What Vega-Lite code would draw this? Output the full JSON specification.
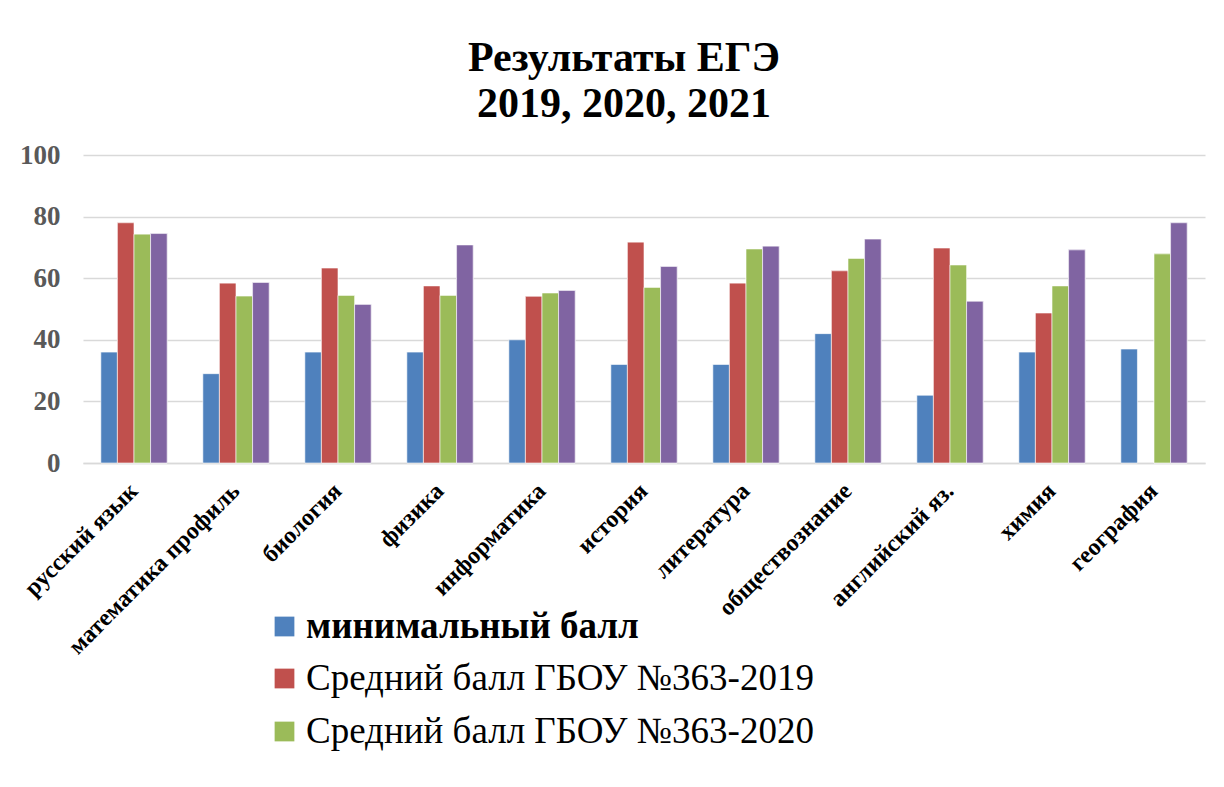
{
  "$schema": "https://vega.github.io/schema/vega-lite/v6.json",
  "width": 1122,
  "height": 308,
  "autosize": {"type": "none"},
  "padding": {"left": 83, "top": 155, "right": 19, "bottom": 324},
  "background": "white",
  "title": {
    "text": ["Результаты ЕГЭ", "2019, 2020, 2021"],
    "font": "Liberation Serif",
    "fontSize": 42,
    "fontWeight": "bold",
    "color": "black",
    "anchor": "middle",
    "dx": -20,
    "lineHeight": 46,
    "offset": 15
  },
  "data": {
    "values": [
      {"subject": "русский язык", "series": "минимальный балл", "value": 36},
      {"subject": "русский язык", "series": "Средний балл ГБОУ №363-2019", "value": 78},
      {"subject": "русский язык", "series": "Средний балл ГБОУ №363-2020", "value": 74.3},
      {"subject": "русский язык", "series": "Средний балл ГБОУ №363-2021", "value": 74.5},
      {"subject": "математика профиль", "series": "минимальный балл", "value": 29},
      {"subject": "математика профиль", "series": "Средний балл ГБОУ №363-2019", "value": 58.4},
      {"subject": "математика профиль", "series": "Средний балл ГБОУ №363-2020", "value": 54.2},
      {"subject": "математика профиль", "series": "Средний балл ГБОУ №363-2021", "value": 58.6},
      {"subject": "биология", "series": "минимальный балл", "value": 36},
      {"subject": "биология", "series": "Средний балл ГБОУ №363-2019", "value": 63.3},
      {"subject": "биология", "series": "Средний балл ГБОУ №363-2020", "value": 54.4},
      {"subject": "биология", "series": "Средний балл ГБОУ №363-2021", "value": 51.5},
      {"subject": "физика", "series": "минимальный балл", "value": 36},
      {"subject": "физика", "series": "Средний балл ГБОУ №363-2019", "value": 57.5},
      {"subject": "физика", "series": "Средний балл ГБОУ №363-2020", "value": 54.4},
      {"subject": "физика", "series": "Средний балл ГБОУ №363-2021", "value": 70.8},
      {"subject": "информатика", "series": "минимальный балл", "value": 40},
      {"subject": "информатика", "series": "Средний балл ГБОУ №363-2019", "value": 54.1},
      {"subject": "информатика", "series": "Средний балл ГБОУ №363-2020", "value": 55.2},
      {"subject": "информатика", "series": "Средний балл ГБОУ №363-2021", "value": 56},
      {"subject": "история", "series": "минимальный балл", "value": 32},
      {"subject": "история", "series": "Средний балл ГБОУ №363-2019", "value": 71.7},
      {"subject": "история", "series": "Средний балл ГБОУ №363-2020", "value": 57},
      {"subject": "история", "series": "Средний балл ГБОУ №363-2021", "value": 63.8},
      {"subject": "литература", "series": "минимальный балл", "value": 32},
      {"subject": "литература", "series": "Средний балл ГБОУ №363-2019", "value": 58.4},
      {"subject": "литература", "series": "Средний балл ГБОУ №363-2020", "value": 69.5},
      {"subject": "литература", "series": "Средний балл ГБОУ №363-2021", "value": 70.4},
      {"subject": "обществознание", "series": "минимальный балл", "value": 42},
      {"subject": "обществознание", "series": "Средний балл ГБОУ №363-2019", "value": 62.4},
      {"subject": "обществознание", "series": "Средний балл ГБОУ №363-2020", "value": 66.4},
      {"subject": "обществознание", "series": "Средний балл ГБОУ №363-2021", "value": 72.7},
      {"subject": "английский яз.", "series": "минимальный балл", "value": 22},
      {"subject": "английский яз.", "series": "Средний балл ГБОУ №363-2019", "value": 69.8},
      {"subject": "английский яз.", "series": "Средний балл ГБОУ №363-2020", "value": 64.3},
      {"subject": "английский яз.", "series": "Средний балл ГБОУ №363-2021", "value": 52.5},
      {"subject": "химия", "series": "минимальный балл", "value": 36},
      {"subject": "химия", "series": "Средний балл ГБОУ №363-2019", "value": 48.7},
      {"subject": "химия", "series": "Средний балл ГБОУ №363-2020", "value": 57.5},
      {"subject": "химия", "series": "Средний балл ГБОУ №363-2021", "value": 69.2},
      {"subject": "география", "series": "минимальный балл", "value": 37},
      {"subject": "география", "series": "Средний балл ГБОУ №363-2020", "value": 67.9},
      {"subject": "география", "series": "Средний балл ГБОУ №363-2021", "value": 78}
    ]
  },
  "encoding": {
    "x": {
      "field": "subject",
      "type": "nominal",
      "sort": null,
      "scale": {"paddingInner": 0.35, "paddingOuter": 0.175},
      "axis": {
        "title": null,
        "labelAngle": -45,
        "labelAlign": "right",
        "labelBaseline": "middle",
        "labelFont": "Liberation Serif",
        "labelFontSize": 24,
        "labelFontWeight": "bold",
        "labelColor": "black",
        "labelPadding": 24,
        "labelLimit": 0,
        "ticks": false,
        "domain": true,
        "domainColor": "#d9d9d9",
        "domainWidth": 1.5
      }
    },
    "xOffset": {
      "field": "series",
      "type": "nominal",
      "sort": ["минимальный балл", "Средний балл ГБОУ №363-2019", "Средний балл ГБОУ №363-2020", "Средний балл ГБОУ №363-2021"]
    },
    "y": {
      "field": "value",
      "type": "quantitative",
      "scale": {"domain": [0, 100]},
      "axis": {
        "title": null,
        "values": [0, 20, 40, 60, 80, 100],
        "labelFont": "Liberation Serif",
        "labelFontSize": 27,
        "labelFontWeight": "bold",
        "labelColor": "#595959",
        "labelPadding": 23,
        "ticks": false,
        "domain": false,
        "grid": true,
        "gridColor": "#d9d9d9",
        "gridWidth": 1.5
      }
    }
  },
  "layer": [
    {
      "mark": {"type": "bar", "stroke": "white", "strokeWidth": 0.6},
      "encoding": {
        "color": {
          "field": "series",
          "type": "nominal",
          "scale": {
            "domain": ["минимальный балл", "Средний балл ГБОУ №363-2019", "Средний балл ГБОУ №363-2020", "Средний балл ГБОУ №363-2021"],
            "range": ["#4F81BD", "#C0504D", "#9BBB59", "#8064A2"]
          },
          "legend": {
            "title": null,
            "orient": "none",
            "legendX": 183,
            "legendY": 453,
            "direction": "vertical",
            "values": ["минимальный балл"],
            "symbolType": "square",
            "symbolSize": 390,
            "symbolStrokeWidth": 0,
            "labelFont": "Liberation Serif",
            "labelFontSize": 37,
            "labelFontWeight": "bold",
            "labelColor": "black",
            "labelOffset": 3,
            "labelLimit": 0
          }
        }
      }
    },
    {
      "transform": [{"filter": "datum.series !== 'минимальный балл'"}],
      "mark": {"type": "bar", "stroke": "white", "strokeWidth": 0.6},
      "encoding": {
        "fill": {
          "field": "series",
          "type": "nominal",
          "scale": {
            "domain": ["Средний балл ГБОУ №363-2019", "Средний балл ГБОУ №363-2020", "Средний балл ГБОУ №363-2021"],
            "range": ["#C0504D", "#9BBB59", "#8064A2"]
          },
          "legend": {
            "title": null,
            "orient": "none",
            "legendX": 183,
            "legendY": 505,
            "direction": "vertical",
            "values": ["Средний балл ГБОУ №363-2019", "Средний балл ГБОУ №363-2020"],
            "symbolType": "square",
            "symbolSize": 390,
            "symbolStrokeWidth": 0,
            "labelFont": "Liberation Serif",
            "labelFontSize": 37,
            "labelFontWeight": "normal",
            "labelColor": "black",
            "labelOffset": 3,
            "labelLimit": 0,
            "rowPadding": 15
          }
        }
      }
    }
  ],
  "resolve": {"legend": {"color": "independent", "fill": "independent"}},
  "config": {"font": "Liberation Serif", "view": {"stroke": null}}
}
